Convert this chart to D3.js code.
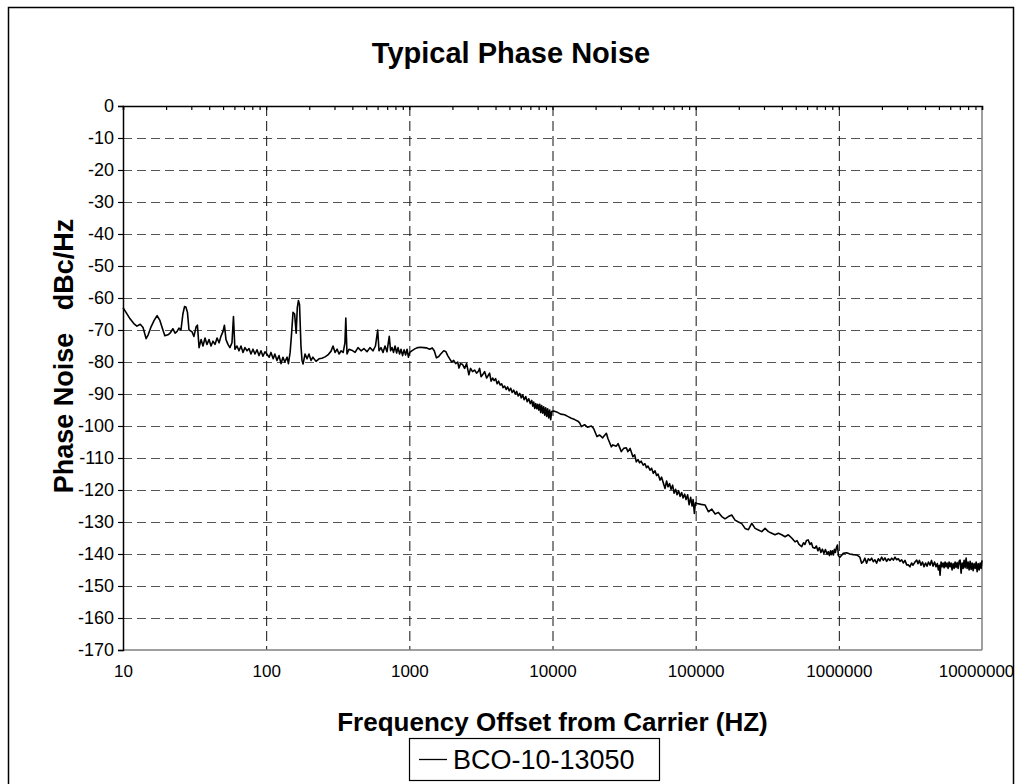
<!DOCTYPE html>
<html><head><meta charset="utf-8">
<script src="https://cdn.jsdelivr.net/npm/d3@7"></script>
<style>
html,body{margin:0;padding:0;background:#fff;}
svg{display:block;font-family:"Liberation Sans",Arial,Helvetica,sans-serif;}
</style></head><body>
<svg id="chart" width="1021" height="784"></svg>
<script>
// ---------- data ----------
const freqDecade1 = [10.0,10.5,11.2,11.9,12.5,13.2,13.8,14.5,15.0,15.7,16.5,17.3,18.1,19.0,19.6,20.6,21.3,22.3,23.1,23.8,24.6,25.4,26.2,26.9,27.5,28.2,28.9,30.3,31.3,32.4,33.1,34.0,35.1,36.2,37.4,38.6,39.9,41.2,42.5,43.9,45.4,46.9,48.3,49.9,51.1,52.4,54.1,55.8,57.7,59.1,60.5,62.5,64.6,66.7,68.9,71.1,73.5,75.9,78.3,80.9,83.5,86.3,89.1,92.0,95.0,98.1];
const noiseDecade1 = [-63.0,-64.5,-66.5,-68.0,-68.8,-68.2,-69.2,-72.7,-71.5,-69.0,-67.0,-65.5,-67.0,-70.0,-71.8,-71.5,-71.0,-69.6,-71.0,-70.5,-69.4,-70.0,-65.0,-62.7,-62.8,-64.5,-70.0,-70.5,-72.0,-69.0,-68.5,-75.5,-73.0,-75.0,-72.5,-74.5,-73.0,-75.0,-73.5,-74.5,-72.5,-74.0,-72.0,-70.5,-68.5,-73.0,-74.5,-75.5,-74.0,-65.8,-76.0,-75.0,-76.5,-75.0,-77.0,-75.5,-76.5,-75.8,-77.5,-76.0,-77.5,-76.2,-78.0,-76.5,-78.2,-76.8];

const freqDecade2 = [101,105,108,112,115,119,123,127,131,135,140,143,147,150,154,158,162,165,168,171,175,178,181,187,193,199,206,212,223,234,245,258,270,284,293,303,313,323,334,345,355,360,367,379,396,418,438,460,482,506,531,557,580,601,614,634,655,676,698,724,740,757,776,795,815,834,855,875,897,919,942,964,985];
const noiseDecade2 = [-77.5,-78.5,-77.0,-79.0,-77.5,-79.5,-78.0,-80.5,-78.5,-80.0,-78.5,-80.5,-77.0,-72.0,-64.5,-65.0,-71.0,-63.0,-60.8,-62.0,-75.0,-79.5,-80.6,-77.5,-79.0,-77.5,-79.5,-78.5,-79.8,-79.0,-78.8,-78.4,-77.8,-76.6,-75.0,-77.0,-76.0,-77.5,-76.5,-77.0,-74.0,-66.3,-77.5,-76.0,-76.3,-77.0,-75.5,-76.5,-75.8,-76.8,-75.5,-76.5,-75.0,-70.0,-76.5,-75.5,-77.0,-75.0,-76.8,-72.0,-76.5,-75.5,-77.0,-75.0,-77.2,-75.5,-77.5,-76.0,-78.0,-76.2,-77.8,-76.0,-78.5];

const freqDecade3 = [1007,1040,1091,1146,1202,1260,1322,1387,1445,1493,1546,1604,1657,1739,1795,1854,1914,1977,2041,2108,2177,2222,2281,2355,2432,2512,2605,2677,2765,2855,2948,3045,3096,3170,3249,3355,3465,3548,3636,3725,3817,3910,4006,4104,4205,4308,4414,4522,4633,4746,4862,4982,5104,5229,5357,5488,5623,5760,5901,6046,6194,6345,6501,6660,6823,6990,7161,7277,7395,7514,7636,7759,7885,8012,8142,8273,8407,8543,8681,8822,8964,9109,9256,9406,9558,9712,9869];
const noiseDecade3 = [-77.0,-76.5,-75.9,-75.5,-75.4,-75.5,-75.6,-76.0,-75.6,-76.5,-78.7,-78.3,-77.5,-76.5,-76.7,-78.0,-79.0,-80.0,-79.5,-80.5,-80.0,-81.9,-80.5,-80.8,-82.0,-80.5,-84.0,-82.0,-83.0,-82.5,-83.5,-82.8,-82.0,-84.6,-84.0,-83.0,-85.0,-84.3,-83.5,-86.0,-85.0,-85.8,-85.2,-86.8,-86.0,-87.2,-86.8,-88.0,-87.5,-88.6,-87.8,-89.0,-88.2,-89.5,-88.8,-90.0,-89.2,-90.6,-89.8,-91.2,-90.3,-91.8,-90.8,-92.4,-91.5,-93.0,-92.0,-93.8,-92.5,-94.5,-93.0,-94.6,-93.2,-95.0,-93.2,-95.8,-93.6,-96.0,-94.0,-96.6,-94.3,-97.0,-94.6,-97.5,-95.0,-98.0,-95.5];

const freqDecade4 = [10190,10690,11400,12160,12760,13540,14280,15050,15470,15900,16760,17590,18670,19370,20430,21350,22400,23780,24390,25750,26420,27910,28710,30260,31410,32770,33630,34850,36450,37490,38480,39630,40580,41570,43020,44230,45380,46450,47980,49200,50590,52000,53330,54580,56360,57810,59160,61110,62660,64120,65770,67300,69020,70630,72440,74130,76030,77800,79800,81660,83750,85700,87900,89950,92240,94400,95930,97970,99550];
const noiseDecade4 = [-95.3,-95.6,-96.3,-96.5,-97.0,-97.6,-98.0,-98.5,-99.0,-100.2,-99.6,-100.4,-100.0,-100.8,-103.3,-102.8,-103.7,-102.3,-103.9,-106.5,-105.9,-106.3,-105.5,-108.0,-107.0,-106.8,-108.0,-107.0,-109.6,-109.0,-111.2,-110.5,-111.5,-111.0,-112.2,-111.8,-113.0,-112.5,-113.8,-113.2,-114.8,-114.0,-115.5,-115.0,-116.9,-116.0,-117.5,-119.5,-117.2,-119.0,-118.0,-119.8,-118.5,-121.0,-119.8,-121.5,-120.2,-122.0,-120.8,-122.5,-121.3,-123.0,-121.5,-124.6,-122.3,-125.0,-123.0,-127.3,-124.0];

const freqDecade5 = [102300,109100,116400,122700,129700,136800,144200,152200,160400,169300,178600,188400,198800,209800,221300,233500,246400,260000,274200,289300,305300,322100,339800,358400,378200,399000,421000,444000,468700,494300,510400,527000,550200,566300,579800,594000,611000,628000,643300,658700,680300,697000,714000,731600,749600,768000,786800,806200,825900,843500,859900,873800,887900,902300,916800,931700,946800,962100,977600,993400];
const noiseDecade5 = [-124.2,-124.5,-124.7,-126.8,-126.0,-127.5,-127.0,-128.3,-129.0,-128.3,-127.8,-129.4,-130.0,-130.5,-132.0,-132.4,-130.4,-132.0,-132.5,-133.0,-132.0,-133.0,-133.5,-134.0,-133.5,-134.0,-134.6,-134.0,-135.0,-136.2,-135.8,-137.0,-137.7,-136.5,-137.0,-135.8,-135.6,-137.0,-136.5,-138.0,-138.2,-137.5,-139.0,-138.0,-139.5,-138.5,-139.8,-138.6,-140.0,-139.3,-140.5,-139.0,-140.2,-139.0,-140.3,-138.5,-139.5,-138.0,-137.2,-140.5];

const freqDecade6 = [1018000,1074000,1134000,1195000,1261000,1330000,1403000,1442000,1482000,1521000,1563000,1606000,1648000,1694000,1740000,1787000,1836000,1887000,1937000,1991000,2045000,2099000,2157000,2217000,2276000,2339000,2403000,2467000,2535000,2604000,2673000,2747000,2820000,2897000,2978000,3057000,3141000,3221000,3297000,3404000,3499000,3573000,3656000,3750000,3838000,3936000,4030000,4130000,4227000,4335000,4438000,4550000,4660000,4775000,4875000,4955000,5035000,5093000,5176000,5260000,5345000,5433000,5521000,5610000,5700000,5794000,5888000,5984000,6081000,6180000,6281000,6383000,6486000,6592000,6699000,6808000,6918000,7031000,7145000,7261000,7379000,7499000,7621000,7745000,7870000,7998000,8128000,8260000,8394000,8531000,8670000,8811000,8954000,9099000,9247000,9398000,9551000,9706000,9864000,10000000];
const noiseDecade6 = [-141.0,-139.8,-139.6,-140.0,-140.2,-140.3,-141.0,-142.9,-142.4,-141.3,-142.9,-141.5,-142.0,-141.3,-142.4,-141.8,-142.9,-141.5,-142.2,-141.0,-142.0,-141.2,-142.3,-141.5,-142.0,-141.3,-141.9,-141.0,-141.8,-141.5,-142.3,-141.8,-142.8,-142.0,-143.4,-143.4,-144.0,-142.8,-143.5,-142.5,-141.9,-143.0,-142.0,-143.5,-142.5,-144.0,-142.8,-143.8,-142.5,-143.5,-142.0,-143.8,-142.5,-144.0,-143.0,-145.0,-143.5,-146.6,-142.5,-144.0,-142.8,-144.3,-142.5,-144.0,-142.8,-144.5,-142.5,-144.0,-142.8,-145.0,-143.0,-144.5,-142.5,-144.2,-142.7,-144.5,-142.3,-141.9,-146.0,-142.8,-144.5,-142.0,-144.3,-141.3,-144.5,-142.5,-145.0,-142.3,-144.8,-142.8,-145.2,-143.0,-144.5,-142.5,-145.5,-143.0,-145.0,-142.8,-144.5,-142.0];

const xTickValues = [10,100,1000,10000,100000,1000000,10000000];
const xTickLabels = ["10","100","1000","10000","100000","1000000","10000000"];
const yTickValues = [0,-10,-20,-30,-40,-50,-60,-70,-80,-90,-100,-110,-120,-130,-140,-150,-160,-170];
const yTickLabels = ["0","-10","-20","-30","-40","-50","-60","-70","-80","-90","-100","-110","-120","-130","-140","-150","-160","-170"];
const seriesName = "BCO-10-13050";
const chartTitle = "Typical Phase Noise";
const xAxisTitle = "Frequency Offset from Carrier (HZ)";
const yAxisTitle = "Phase Noise   dBc/Hz";

// ---------- build ----------
const freqHz = [].concat(freqDecade1,freqDecade2,freqDecade3,freqDecade4,freqDecade5,freqDecade6);
const noiseDbc = [].concat(noiseDecade1,noiseDecade2,noiseDecade3,noiseDecade4,noiseDecade5,noiseDecade6);
const data = freqHz.map((f,i)=>({f:f, v:noiseDbc[i]})).filter(d=>d.v!==undefined);

const FONT = '"Liberation Sans",Arial,Helvetica,sans-serif';
const svg = d3.select("#chart");
const plot = {left:123, top:106, right:982, bottom:650};
const pw = plot.right-plot.left, ph = plot.bottom-plot.top;

const x = d3.scaleLog().domain([10,1e7]).range([plot.left,plot.right]);
const y = d3.scaleLinear().domain([-170,0]).range([plot.bottom,plot.top]);

svg.append("rect").attr("width",1021).attr("height",784).attr("fill","#fff");
// outer chart border
svg.append("rect").attr("x",8.5).attr("y",7.5).attr("width",1005).attr("height",820)
  .attr("fill","none").attr("stroke","#000").attr("stroke-width",1.5);

// horizontal gridlines
svg.append("g").attr("transform",`translate(${plot.left},0)`)
  .call(d3.axisLeft(y).tickValues(yTickValues.filter(v=>v<0 && v>-170)).tickSize(-pw).tickFormat(""))
  .call(g=>g.select(".domain").remove())
  .call(g=>g.selectAll(".tick line").attr("stroke","#555").attr("stroke-width",1).attr("stroke-dasharray","9,5"));

// vertical gridlines
svg.append("g").attr("transform",`translate(0,${plot.top})`)
  .call(d3.axisTop(x).tickValues(xTickValues.slice(1,-1)).tickSize(-ph).tickFormat(""))
  .call(g=>g.select(".domain").remove())
  .call(g=>g.selectAll(".tick line").attr("stroke","#111").attr("stroke-width",1).attr("stroke-dasharray","10,5"));

// plot border right/bottom
svg.append("line").attr("x1",plot.right).attr("x2",plot.right).attr("y1",plot.top).attr("y2",plot.bottom).attr("stroke","#808080").attr("stroke-width",1.5);
svg.append("line").attr("x1",plot.left).attr("x2",plot.right).attr("y1",plot.bottom).attr("y2",plot.bottom).attr("stroke","#808080").attr("stroke-width",1.5);

// data line
svg.append("path").datum(data)
  .attr("fill","none").attr("stroke","#000").attr("stroke-width",1.6).attr("stroke-linejoin","round")
  .attr("d",d3.line().x(d=>x(d.f)).y(d=>y(d.v)));

// top axis (x axis crossing at 0) with minor ticks inside
svg.append("g").attr("transform",`translate(0,${plot.top})`)
  .call(d3.axisBottom(x).tickValues(x.ticks()).tickSize(4).tickFormat(""))
  .call(g=>g.select(".domain").attr("stroke","#000").attr("stroke-width",1.5))
  .call(g=>g.selectAll(".tick line").attr("stroke","#000").attr("stroke-width",1.2));

// x tick labels (low position)
svg.append("g").attr("transform",`translate(0,${plot.bottom})`)
  .call(d3.axisBottom(x).tickValues(xTickValues).tickSize(0).tickPadding(15).tickFormat((d,i)=>xTickLabels[i]))
  .call(g=>g.select(".domain").remove())
  .call(g=>g.selectAll("text").attr("font-family",FONT).attr("font-size",17).attr("fill","#000"))
  .call(g=>g.selectAll(".tick:last-of-type text").attr("dx",-6));

// y axis
svg.append("g").attr("transform",`translate(${plot.left},0)`)
  .call(d3.axisLeft(y).tickValues(yTickValues).tickSize(5).tickPadding(4).tickFormat((d,i)=>yTickLabels[i]))
  .call(g=>g.select(".domain").attr("stroke","#000").attr("stroke-width",1.5))
  .call(g=>g.selectAll(".tick line").attr("stroke","#000").attr("stroke-width",1.2))
  .call(g=>g.selectAll("text").attr("font-family",FONT).attr("font-size",18).attr("fill","#000"));

// titles
svg.append("text").attr("x",511).attr("y",63).attr("text-anchor","middle")
  .attr("font-family",FONT).attr("font-weight","bold").attr("font-size",29).text(chartTitle);
svg.append("text").attr("x",(plot.left+plot.right)/2).attr("y",731).attr("text-anchor","middle")
  .attr("font-family",FONT).attr("font-weight","bold").attr("font-size",26).text(xAxisTitle);
svg.append("text").attr("transform",`translate(73,${(plot.top+plot.bottom)/2 - 22}) rotate(-90)`)
  .attr("text-anchor","middle").attr("xml:space","preserve").style("white-space","pre")
  .attr("font-family",FONT).attr("font-weight","bold").attr("font-size",27).text(yAxisTitle);

// legend
const lg = svg.append("g").attr("transform","translate(409,738)");
lg.append("rect").attr("x",0.5).attr("y",0.5).attr("width",250).attr("height",42)
  .attr("fill","#fff").attr("stroke","#000").attr("stroke-width",1.2);
lg.append("line").attr("x1",10).attr("x2",38).attr("y1",21.5).attr("y2",21.5).attr("stroke","#000").attr("stroke-width",1.3);
lg.append("text").attr("x",44).attr("y",31).attr("font-family",FONT).attr("font-size",27).text(seriesName);
</script>
</body></html>
